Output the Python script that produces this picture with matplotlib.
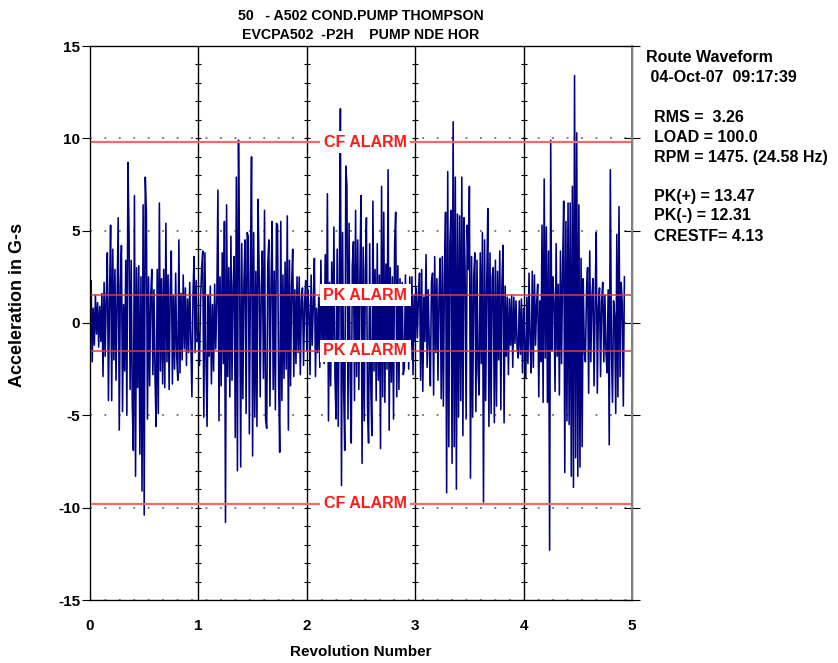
import numpy as np
import matplotlib
matplotlib.use("Agg")
import matplotlib.pyplot as plt
from matplotlib import font_manager

# ---------------- data ----------------
title_lines = ["50   - A502 COND.PUMP THOMPSON", "EVCPA502  -P2H    PUMP NDE HOR"]
samples_per_rev = 100

rev0 = [0.3, 2.3, -2.1, 0.8, -1.2, 1.5, -0.6, 1.1, -1.3, 0.9,
        -1.0, 1.6, -2.9, 2.2, -1.8, 1.4, 3.8, -4.2, 1.2, 5.3,
        -4.2, 4.0, -2.0, 2.9, -3.1, 1.5, 5.7, -5.8, 2.0, 4.2,
        -4.8, 1.0, -2.6, 3.4, -5.0, 8.7, 4.9, -3.6, 3.4, -4.4,
        -6.9, 6.9, -8.3, 3.0, -3.5, 3.1, -7.1, 2.5, -9.1, 6.4,
        -10.4, 7.9, 6.0, -5.2, 2.5, -3.4, 1.4, 2.9, -2.8, 1.8,
        -3.0, -5.6, 2.9, -4.9, 6.5, -2.6, 2.4, -3.3, 2.9, -3.5,
        5.4, -2.1, 2.6, -3.6, 1.8, 3.9, -3.3, 1.5, -2.5, 2.7,
        -1.8, -3.1, 4.5, -2.7, 1.6, -2.0, 2.6, -1.4, 1.9, -2.3,
        1.3, -1.6, 2.2, -0.9, -4.0, 1.5, 3.6, -1.6, 2.3, -1.0]
rev1 = [-0.5, -2.3, 1.2, 3.0, 3.9, -5.1, 3.8, -2.0, -5.6, 1.5,
        -1.8, 2.0, -3.3, 1.0, -2.6, 2.1, -1.4, 1.2, 7.2, -5.3,
        2.5, -3.4, 3.8, -2.2, 5.5, -10.8, 6.4, -2.9, 3.0, -4.0,
        4.7, -3.1, 2.0, 3.6, -6.2, 7.9, -8.0, 9.9, 3.1, -7.8,
        4.3, -4.1, 2.2, 4.5, -4.9, 4.9, 4.7, -6.0, 2.5, 9.0,
        -7.2, 4.9, -5.1, 2.8, -5.6, 6.7, 2.9, -4.0, 1.9, 3.9,
        -3.0, 6.1, -5.2, -5.7, 3.2, 4.5, -4.5, 2.1, 5.5, -3.6,
        2.8, -4.7, 5.4, 5.3, -3.2, -7.0, 5.5, -4.2, 2.6, -3.0,
        3.3, -2.5, 5.8, -5.8, 3.4, -3.4, 2.0, 4.0, -2.9, 1.8,
        -2.2, 2.5, -1.6, 2.5, -2.8, 1.3, 1.9, -2.3, 1.1, 2.3]
rev2 = [-1.5, 1.8, 0.6, -2.8, 2.6, -1.2, 1.0, 3.5, -2.9, 0.8,
        -1.6, 1.4, -2.4, 3.4, -1.2, 2.0, -2.2, 3.7, -1.9, 7.0,
        -5.3, 2.2, -3.4, 3.3, -1.8, 5.2, -3.0, -5.2, 4.0, -5.6,
        2.5, 11.6, -8.8, 4.9, -3.5, -6.9, 8.5, 7.4, -5.2, 5.4,
        -3.0, -6.5, 3.1, 4.4, -4.2, 6.1, -2.9, 4.5, -3.6, 2.7,
        6.9, -7.6, 4.1, -5.3, 2.8, 5.7, -4.6, -6.5, 4.3, -3.3,
        -6.1, 6.6, -2.6, 2.9, -4.2, 4.3, -3.1, 2.6, -6.8, 7.4,
        -4.0, 6.0, -4.3, 3.2, -2.5, 8.3, -5.8, 3.0, -3.2, 2.5,
        -5.2, 4.2, 6.0, -4.0, 3.1, -3.6, 2.4, -2.0, 2.2, -2.8,
        -2.4, 2.6, -1.5, 1.8, -2.5, 2.5, -2.0, 2.5, -2.8, 1.5]
rev3 = [-1.0, 1.9, -0.8, 1.5, 2.7, -3.1, 2.9, -3.7, 1.4, -1.0,
        3.7, -2.4, 1.8, -1.3, -3.4, 2.2, 2.7, -3.9, 3.6, -1.6,
        2.4, -3.1, 1.5, 3.5, -4.1, 3.6, -4.5, 2.8, 6.0, -9.2,
        8.2, -6.7, 4.4, 6.1, -7.6, 10.9, -6.7, 7.9, -9.0, 5.9,
        -5.1, 5.8, -4.2, 7.9, -6.1, 5.7, 3.0, -5.2, 5.3, 2.9,
        7.4, -8.4, 3.6, -5.1, 2.5, 3.8, -4.8, 3.4, -2.6, -3.9,
        3.8, -2.2, 4.9, -9.7, 4.5, -4.2, 2.1, 6.2, -5.6, 3.8,
        -4.9, 2.5, 3.0, -5.4, 3.4, -4.5, 2.8, -2.0, 3.9, -4.7,
        2.1, 4.2, -5.4, 2.0, -1.8, 1.4, -2.8, 1.3, -1.2, 1.5,
        -2.4, 1.4, -1.1, 1.2, -1.3, -1.9, 1.2, -1.7, 1.3, -2.7]
rev4 = [0.8, -1.2, -3.0, 1.4, -2.2, 2.7, -1.0, -2.7, 2.8, -2.4,
        2.6, -1.2, 1.0, 2.1, -4.0, 1.2, -2.1, 5.3, -4.3, 7.8,
        -1.9, 5.2, -4.3, 3.9, -12.3, 9.9, -1.5, 2.5, 1.2, -3.7,
        4.3, -1.8, 2.1, -3.9, 3.9, -2.2, 3.0, 6.6, -8.1, 5.5,
        -5.3, 6.5, -5.5, 6.5, -8.3, 7.4, -8.9, 13.4, -7.3, 10.3,
        -8.3, 6.4, -7.8, 3.5, -6.7, 2.4, -1.5, -2.1, 1.6, 3.0,
        -3.8, 3.9, -2.1, 1.4, 2.4, -3.4, 1.2, 4.9, -3.8, 0.8,
        1.9, -2.9, 1.2, 2.2, -2.1, 1.5, -1.6, -2.7, 1.8, -6.6,
        8.3, -1.3, -4.3, 1.2, 0.4, -4.9, 4.8, -4.0, 6.3, -2.9,
        2.2, 1.1, -4.5, 2.5]

cf_alarm = 9.8
pk_alarm = 1.5

info_lines = ["RMS =  3.26", "LOAD = 100.0", "RPM = 1475. (24.58 Hz)",
              "PK(+) = 13.47", "PK(-) = 12.31", "CRESTF= 4.13"]
info_header = ["Route Waveform", " 04-Oct-07  09:17:39"]

x_ticks = [0, 1, 2, 3, 4, 5]
y_ticks = [-15, -10, -5, 0, 5, 10, 15]

# ---------------- fonts ----------------
avail = {f.name for f in font_manager.fontManager.ttflist}
narrow = ['Liberation Sans Narrow', 'Liberation Sans'] if 'Liberation Sans Narrow' in avail else ['Liberation Sans']
reg = ['Liberation Sans', 'DejaVu Sans']

wave = np.array(rev0 + rev1 + rev2 + rev3 + rev4)
rev = np.arange(len(wave)) / samples_per_rev

W, H = 838, 663
fig = plt.figure(figsize=(W / 100, H / 100), dpi=100)
ax = fig.add_axes([90 / W, (H - 600) / H, (632 - 90) / W, (600 - 46) / H])

ax.set_xlim(0, 5)
ax.set_ylim(-15, 15)

# dotted horizontal grid
for yv in y_ticks:
    ax.axhline(yv, color='#707070', linestyle=(0, (1, 7)), lw=1.3, zorder=1)

# revolution lines with minor ticks
for k in x_ticks[1:-1]:
    ax.axvline(k, color='black', lw=1.0, zorder=2)
    ax.plot([k] * 29, np.arange(-14, 15), linestyle='none', marker='_',
            markersize=5, color='black', mew=0.8, zorder=2)

ax.plot(rev, wave, color='#000080', lw=1.15, zorder=3)

# alarm lines
for yv in (cf_alarm, -cf_alarm):
    ax.axhline(yv, color='#f06a6a', lw=1.6, zorder=4)
for yv in (pk_alarm, -pk_alarm):
    ax.axhline(yv, color='#e03c3c', lw=1.1, zorder=4)

lab_x = 2.54
for yv, txt in [(cf_alarm, 'CF ALARM'), (-cf_alarm, 'CF ALARM'),
                (pk_alarm, 'PK ALARM'), (-pk_alarm, 'PK ALARM')]:
    ax.text(lab_x, yv, txt, color='#ff1a1a', fontsize=11.5, fontweight='bold',
            family=reg, ha='center', va='center', zorder=6,
            bbox=dict(facecolor='white', edgecolor='none', pad=2.5))

# axes styling
ax.set_xticks(x_ticks)
ax.set_yticks(y_ticks)
ax.set_xticklabels([str(t) for t in x_ticks], fontsize=11, fontweight='bold', family=narrow)
ax.set_yticklabels([str(t) for t in y_ticks], fontsize=11, fontweight='bold', family=narrow)
ax.tick_params(axis='y', direction='out', length=6, width=0.8, pad=1)
ax.tick_params(axis='x', direction='in', length=0, pad=14)
for sp in ax.spines.values():
    sp.set_linewidth(0.9)

# right-axis in/out ticks
ax2 = ax.twinx()
ax2.set_ylim(-15, 15)
ax2.set_yticks(y_ticks)
ax2.tick_params(axis='y', direction='inout', length=11, width=0.8, labelright=False)
ax.tick_params(axis='y', right=False)
ax2.spines['right'].set_color('#808080')
ax2.spines['right'].set_linewidth(1.5)

ax.set_xlabel('Revolution Number', fontsize=11, fontweight='bold', family=narrow, labelpad=8)
fig.text(18 / W, 1 - 305 / H, 'Acceleration in G-s', rotation=90, fontsize=13,
         fontweight='bold', family=reg, ha='center', va='center')

fig.text(361 / W, 1 - 16 / H, title_lines[0], fontsize=10.2, fontweight='bold',
         family=narrow, ha='center', va='center')
fig.text(361 / W, 1 - 35 / H, title_lines[1], fontsize=10.2, fontweight='bold',
         family=narrow, ha='center', va='center')

ys = [58, 78]
for yy, t in zip(ys, info_header):
    fig.text(646 / W, 1 - yy / H, t, fontsize=11.5, fontweight='bold', family=reg,
             ha='left', va='center')
ys2 = [117, 137, 157, 196, 216, 236]
for yy, t in zip(ys2, info_lines):
    fig.text(654 / W, 1 - yy / H, t, fontsize=11.5, fontweight='bold', family=reg,
             ha='left', va='center')

fig.savefig('out.png', dpi=100)
